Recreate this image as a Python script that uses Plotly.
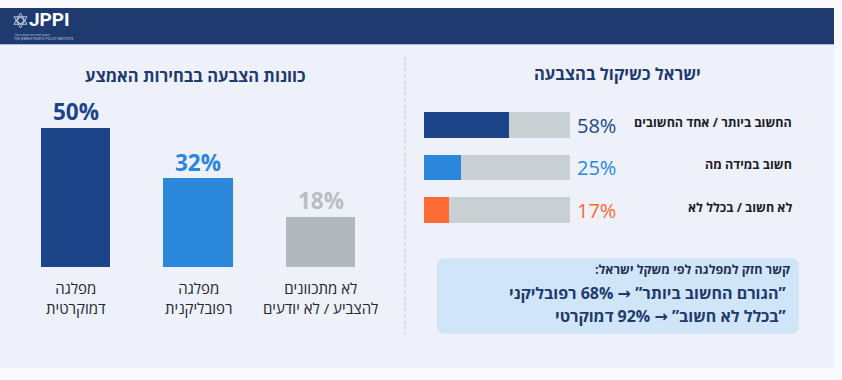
import plotly.graph_objects as go

W, H = 842, 380
RLM = "\u200f"

# ---------------- data ----------------
vote_categories = ["מפלגה<br>דמוקרטית", "מפלגה<br>רפובליקנית", "לא מתכוונים<br>להצביע / לא יודעים"]
vote_values = [50, 32, 18]
vote_colors = ["#1c4589", "#2a87d9", "#b2b9bc"]
vote_label_colors = ["#1c4589", "#2a87d9", "#b8bec1"]

israel_categories = ["החשוב ביותר / אחד החשובים", "חשוב במידה מה", "לא חשוב / בכלל לא"]
israel_values = [58, 25, 17]
israel_colors = ["#1c4589", "#2a87d9", "#fd6b35"]
track_max = 100

left_title = "כוונות הצבעה בבחירות האמצע"
right_title = "ישראל כשיקול בהצבעה"
box_heading = "קשר חזק למפלגה לפי משקל ישראל:"
box_lines = ["”הגורם החשוב ביותר” → 68% רפובליקני", "”בכלל לא חשוב” → 92% דמוקרטי"]

FONT = "Open Sans, DejaVu Sans, sans-serif"


def px(x):
    return x / W


def py(y):
    return 1 - y / H


fig = go.Figure()

# ---------------- left: vertical bars ----------------
fig.add_trace(go.Bar(
    x=vote_categories, y=vote_values, marker=dict(color=vote_colors, line=dict(width=0)),
    width=0.57, xaxis="x", yaxis="y", hoverinfo="skip", showlegend=False,
))

# ---------------- right: horizontal bars with track ----------------
fig.add_trace(go.Bar(
    y=israel_categories, x=[track_max] * len(israel_categories), orientation="h",
    marker=dict(color="#c9d0d4", line=dict(width=0)), width=0.61,
    xaxis="x2", yaxis="y2", hoverinfo="skip", showlegend=False,
))
fig.add_trace(go.Bar(
    y=israel_categories, x=israel_values, orientation="h",
    marker=dict(color=israel_colors, line=dict(width=0)), width=0.61,
    xaxis="x2", yaxis="y2", hoverinfo="skip", showlegend=False,
))

annotations = []

# left value labels
for c, v, col in zip(vote_categories, vote_values, vote_label_colors):
    annotations.append(dict(
        x=c, y=v, xref="x", yref="y", text=f"<b>{v}%</b>", showarrow=False,
        yanchor="middle", yshift=16, font=dict(family=FONT, size=22.5, color=col),
    ))
    annotations.append(dict(
        x=c, y=0, xref="x", yref="y", text=RLM + c, showarrow=False,
        yanchor="middle", yshift=-31, font=dict(family=FONT, size=15, color="#222831"),
    ))

# right value and category labels
for c, v, col in zip(israel_categories, israel_values, israel_colors):
    annotations.append(dict(
        x=track_max, y=c, xref="x2", yref="y2", text=f"{v}%", showarrow=False,
        xanchor="left", xshift=5, yanchor="middle",
        font=dict(family=FONT, size=20, color=col),
    ))
    annotations.append(dict(
        x=px(794), y=c, xref="paper", yref="y2", text=f"<b>{RLM}{c}{RLM}</b>", showarrow=False,
        xanchor="right", yanchor="middle", yshift=3,
        font=dict(family=FONT, size=12.5, color="#1b1d2b"),
    ))

# titles
annotations.append(dict(x=px(195), y=py(76), xref="paper", yref="paper", text=f"<b>{left_title}</b>",
                        showarrow=False, xanchor="center", yanchor="middle",
                        font=dict(family=FONT, size=16.5, color="#1e3a6e")))
annotations.append(dict(x=px(617), y=py(73), xref="paper", yref="paper", text=f"<b>{right_title}</b>",
                        showarrow=False, xanchor="center", yanchor="middle",
                        font=dict(family=FONT, size=16.5, color="#1e3a6e")))

# info box text
annotations.append(dict(x=px(792), y=py(269), xref="paper", yref="paper", text=f"<b>{RLM}{box_heading}{RLM}</b>",
                        showarrow=False, xanchor="right", yanchor="middle",
                        font=dict(family=FONT, size=12.5, color="#1e2f55")))
for i, line in enumerate(box_lines):
    annotations.append(dict(x=px(788), y=py(293 + 23 * i), xref="paper", yref="paper",
                            text=f"<b>{RLM}{line}{RLM}</b>", showarrow=False, xanchor="right", yanchor="middle",
                            font=dict(family=FONT, size=16, color="#1e3a6e")))

# header logo text
annotations.append(dict(x=px(28), y=py(20), xref="paper", yref="paper", text="<b>JPPI</b>",
                        showarrow=False, xanchor="left", yanchor="middle", borderpad=0,
                        font=dict(family="Liberation Sans Narrow, Roboto, sans-serif", size=19, color="#ffffff")))
annotations.append(dict(x=px(13), y=py(37), xref="paper", yref="paper",
                        text=RLM + "המכון למדיניות העם היהודי" + "<br>THE JEWISH PEOPLE POLICY INSTITUTE",
                        showarrow=False, xanchor="left", yanchor="middle", align="left", borderpad=0,
                        font=dict(family=FONT, size=3.3, color="#d5dced")))

# ---------------- shapes ----------------
shapes = []
# header band
shapes.append(dict(type="rect", xref="paper", yref="paper", x0=px(0), x1=px(834), y0=py(44), y1=py(8),
                   fillcolor="#1f3a6e", line=dict(width=0), layer="below"))
# content panel
shapes.append(dict(type="rect", xref="paper", yref="paper", x0=px(0), x1=px(834), y0=py(368), y1=py(45),
                   fillcolor="#eef1fa", line=dict(width=0), layer="below"))
# header bottom line
shapes.append(dict(type="line", xref="paper", yref="paper", x0=px(0), x1=px(834), y0=py(44.5), y1=py(44.5),
                   line=dict(color="#aab6d2", width=1), layer="below"))
# divider
shapes.append(dict(type="line", xref="paper", yref="paper", x0=px(405), x1=px(405), y0=py(56), y1=py(334),
                   line=dict(color="#d6dae4", width=1.5, dash="4px,2px"), layer="below"))


# info box (rounded)
def rounded_rect(x0, y0, x1, y1, r):
    return (f"M {px(x0 + r)} {py(y0)} L {px(x1 - r)} {py(y0)} "
            f"Q {px(x1)} {py(y0)} {px(x1)} {py(y0 + r)} L {px(x1)} {py(y1 - r)} "
            f"Q {px(x1)} {py(y1)} {px(x1 - r)} {py(y1)} L {px(x0 + r)} {py(y1)} "
            f"Q {px(x0)} {py(y1)} {px(x0)} {py(y1 - r)} L {px(x0)} {py(y0 + r)} "
            f"Q {px(x0)} {py(y0)} {px(x0 + r)} {py(y0)} Z")


shapes.append(dict(type="path", xref="paper", yref="paper", path=rounded_rect(437, 258, 799, 334, 9),
                   fillcolor="#d0e6f8", line=dict(width=0), layer="below"))

# logo emblem (star of David)
cx, cy, r = 20.5, 20.5, 7.5
tri1 = f"M {px(cx)} {py(cy - r)} L {px(cx + 0.866 * r)} {py(cy + 0.5 * r)} L {px(cx - 0.866 * r)} {py(cy + 0.5 * r)} Z"
tri2 = f"M {px(cx)} {py(cy + r)} L {px(cx + 0.866 * r)} {py(cy - 0.5 * r)} L {px(cx - 0.866 * r)} {py(cy - 0.5 * r)} Z"
for t in (tri1, tri2):
    shapes.append(dict(type="path", xref="paper", yref="paper", path=t,
                       line=dict(color="#b9c4de", width=1), fillcolor="rgba(0,0,0,0)"))
shapes.append(dict(type="circle", xref="paper", yref="paper", x0=px(cx - 3), x1=px(cx + 3), y0=py(cy + 3), y1=py(cy - 3),
                   line=dict(color="#d9e0ef", width=1), fillcolor="rgba(0,0,0,0)"))

fig.update_layout(
    width=W, height=H, autosize=False,
    margin=dict(l=0, r=0, t=0, b=0),
    paper_bgcolor="#f8f8fd", plot_bgcolor="rgba(0,0,0,0)",
    barmode="overlay", bargap=0,
    showlegend=False,
    font=dict(family=FONT),
    xaxis=dict(domain=[px(14.25), px(381.75)], showgrid=False, zeroline=False, showticklabels=False,
               showline=False, fixedrange=True),
    yaxis=dict(domain=[(H - 267) / H, (H - 267 + 166.8) / H], range=[0, 60], showgrid=False, zeroline=False,
               showticklabels=False, showline=False, fixedrange=True),
    xaxis2=dict(domain=[px(424), px(570)], range=[0, track_max], anchor="y2", showgrid=False, zeroline=False,
                showticklabels=False, showline=False, fixedrange=True),
    yaxis2=dict(domain=[py(231.25), py(103.75)], anchor="x2", autorange="reversed", showgrid=False,
                zeroline=False, showticklabels=False, showline=False, fixedrange=True),
    annotations=annotations,
    shapes=shapes,
)

fig.write_html(
    "out.html",
    config={"displayModeBar": False, "staticPlot": True},
    post_script="document.body.style.margin='0';document.body.style.background='#f8f8fd';document.body.style.overflow='hidden';",
)
